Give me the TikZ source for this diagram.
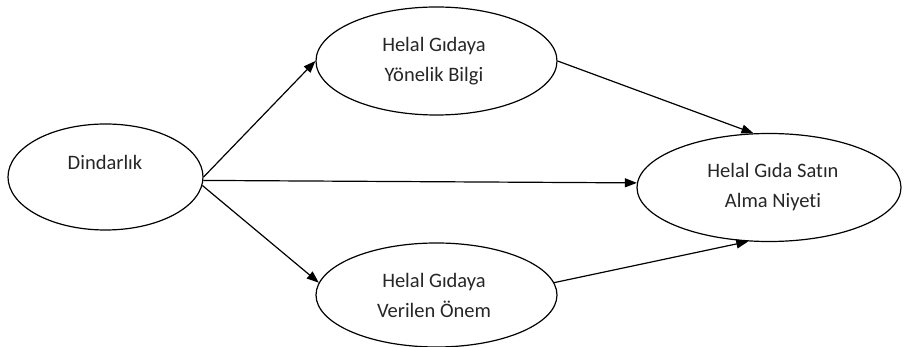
\documentclass[tikz,border=0pt]{standalone}
\usepackage{fontspec}
\setmainfont[Ligatures=NoCommon]{Carlito}
\usetikzlibrary{arrows.meta,shapes.geometric}
\begin{document}
\begin{tikzpicture}[x=1pt,y=-1pt,
  oval/.style={draw=black, line width=1.2pt, ellipse, inner sep=0pt},
  txt/.style={font=\fontsize{20.5}{30}\selectfont, align=center, text=black!85},
  conn/.style={draw=black, line width=1.2pt, -{Triangle[length=12pt,width=9pt]}}]
\useasboundingbox (0,0) rectangle (908,347);
\node[oval, minimum width=195pt, minimum height=106pt] (d) at (105.5,177) {};
\node[txt] (dt) at (105,162) {Dindarlık};
\node[oval, minimum width=241pt, minimum height=108pt] (b) at (436.5,61) {};
\node[txt] (bt) at (434,61) {Helal Gıdaya\\Yönelik Bilgi};
\node[oval, minimum width=241pt, minimum height=104pt] (v) at (436.5,295) {};
\node[txt] (vt) at (434,295) {Helal Gıdaya\\Verilen Önem};
\node[oval, minimum width=264pt, minimum height=108pt] (n) at (769,187.5) {};
\node[txt] (nt) at (773,187.5) {Helal Gıda Satın\\Alma Niyeti};
\draw[conn] (d.0) -- (b.180);
\draw[conn] (d.-2) -- (n.178);
\draw[conn] (d.-5) -- (v.174);
\draw[conn] (b.0) -- (n.106);
\draw[conn] (v.6) -- (n.249);
\end{tikzpicture}
\end{document}
